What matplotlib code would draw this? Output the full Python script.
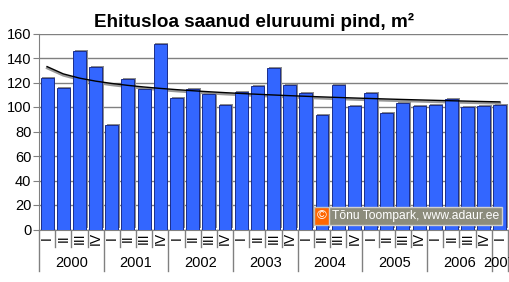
import matplotlib
matplotlib.use("Agg")
import matplotlib.pyplot as plt
import matplotlib.patheffects as pe
import matplotlib.transforms as mtransforms
import numpy as np

# quarterly data, 2000 Q1 .. 2007 Q1
years = ['2000', '2001', '2002', '2003', '2004', '2005', '2006', '2007']
quarters = ['I', 'II', 'III', 'IV']
values = [123.4, 115.3, 145.5, 132.4,
          85.0, 122.6, 115.0, 151.2,
          107.1, 115.0, 110.6, 101.4,
          112.0, 117.1, 131.6, 118.0,
          111.2, 93.2, 117.7, 100.8,
          111.2, 95.1, 103.0, 100.8,
          101.6, 106.5, 100.0, 100.8,
          101.6]

plt.rcParams['font.family'] = ['Liberation Sans', 'DejaVu Sans']

fig = plt.figure(figsize=(5.1, 2.82), dpi=100)
ax = fig.add_axes([39 / 510, 1 - 229.5 / 282, 469 / 510, 196 / 282])

n = len(values)
x = np.arange(n)

# log trend line like the excel one
coef = np.polyfit(np.log(x + 1), values, 1)
trend = np.polyval(coef, np.log(x + 1))
shadow = ax.transData + mtransforms.ScaledTranslation(0, -1.5 / 100, fig.dpi_scale_trans)
ax.plot(x, trend, color='#999999', lw=1.8, zorder=2, transform=shadow)

bars = ax.bar(x, values, width=0.8, color='#3366ff', edgecolor='#1a2d8c',
              linewidth=0.7, zorder=3)
for b in bars:
    b.set_path_effects([pe.SimplePatchShadow(offset=(1.2, 0.8), shadow_rgbFace='#8c8c8c', alpha=1.0),
                        pe.Normal()])
ax.plot(x, trend, color='black', lw=1.0, zorder=4)

ax.set_xlim(-0.5, n - 0.5)
ax.set_ylim(0, 160)
ax.set_yticks(range(0, 161, 20))
ax.yaxis.grid(True, color='#808080', lw=1.0)
ax.set_axisbelow(True)
ax.tick_params(axis='y', length=4, color='#808080', labelsize=10.5, pad=1.5)
ax.set_xticks([])
for s in ['top', 'right']:
    ax.spines[s].set_visible(False)
for s in ['left', 'bottom']:
    ax.spines[s].set_color('#808080')

# two level category axis
tr = ax.get_xaxis_transform()
for i in range(n):
    ax.text(i, -0.045, quarters[i % 4], rotation=90, ha='center', va='center',
            fontsize=10, transform=tr)
for k in range(n + 1):
    bottom = -0.212 if (k % 4 == 0 or k == n) else -0.09
    ax.plot([k - 0.5, k - 0.5], [0, bottom], color='#808080', lw=1.0,
            transform=tr, clip_on=False)
for j, yr in enumerate(years):
    start = j * 4
    end = min(start + 4, n)
    ax.text((start + end - 1) / 2, -0.171, yr, ha='center', va='center',
            fontsize=10.5, transform=tr)

fig.text(254 / 510, 1 - 22 / 282, 'Ehitusloa saanud eluruumi pind, m²',
         ha='center', va='center', fontsize=13.6, fontweight='bold',
         bbox=dict(facecolor='white', edgecolor='none', pad=1.5))

# watermark
fig.text(322 / 510, 1 - 216 / 282, '©', ha='center', va='center', fontsize=9.5,
         color='white', bbox=dict(facecolor='#ff6600', edgecolor='#c0c0c0',
                                  boxstyle='square,pad=0.2'))
fig.text(332 / 510, 1 - 216 / 282, 'Tõnu Toompark, www.adaur.ee', ha='left',
         va='center', fontsize=8.7, color='white',
         bbox=dict(facecolor='#8c8c7c', edgecolor='#d0d0d0',
                   boxstyle='square,pad=0.25'))

fig.savefig('out.png', dpi=100)
